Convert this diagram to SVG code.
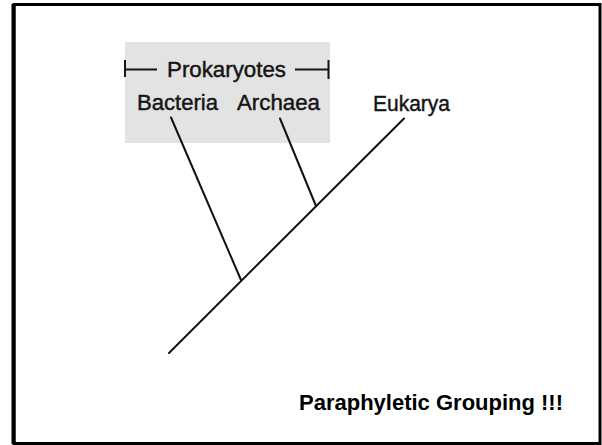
<svg xmlns="http://www.w3.org/2000/svg" width="602" height="445" viewBox="0 0 602 445">
<style>
.lbl{font-family:"Liberation Sans",Arial,sans-serif;font-size:22px;fill:#151515;stroke:#151515;stroke-width:0.45}
.br{stroke:#151515;stroke-width:2;fill:none}
.edge{stroke:#111;stroke-width:2;fill:none;stroke-linecap:round}
.title{font-family:"Comic Sans MS","Liberation Sans",Arial,sans-serif;font-weight:bold;font-size:22px;fill:#000}
</style>
<rect x="0" y="0" width="602" height="445" fill="#fff"/>
<rect x="14" y="4.5" width="586" height="439" fill="none" stroke="#000" stroke-width="3"/>
<line x1="13.5" y1="4" x2="13.5" y2="444" stroke="#000" stroke-width="4"/>
<g id="prokaryotes">
<rect x="125" y="42" width="205" height="101" fill="#e3e3e3"/>
<path class="br" d="M125,60 V77 M125,69.5 H157 M295,69.5 H328.5 M328.5,60 V79"/>
<text class="lbl" x="226.5" y="77" text-anchor="middle" textLength="119" lengthAdjust="spacingAndGlyphs">Prokaryotes</text>
</g>
<g id="bacteria"><text class="lbl" x="137" y="110" textLength="81" lengthAdjust="spacingAndGlyphs">Bacteria</text></g>
<g id="archaea"><text class="lbl" x="237" y="110" textLength="83" lengthAdjust="spacingAndGlyphs">Archaea</text></g>
<g id="eukarya"><text class="lbl" x="373" y="111" textLength="77" lengthAdjust="spacingAndGlyphs">Eukarya</text></g>
<g id="connectors">
<line class="edge" x1="404" y1="118.5" x2="169" y2="353"/>
<line class="edge" x1="171" y1="117.5" x2="241" y2="280"/>
<line class="edge" x1="280" y1="118.5" x2="316" y2="206"/>
</g>
<g id="caption"><text class="title" x="299" y="410">Paraphyletic Grouping !!!</text></g>
</svg>
